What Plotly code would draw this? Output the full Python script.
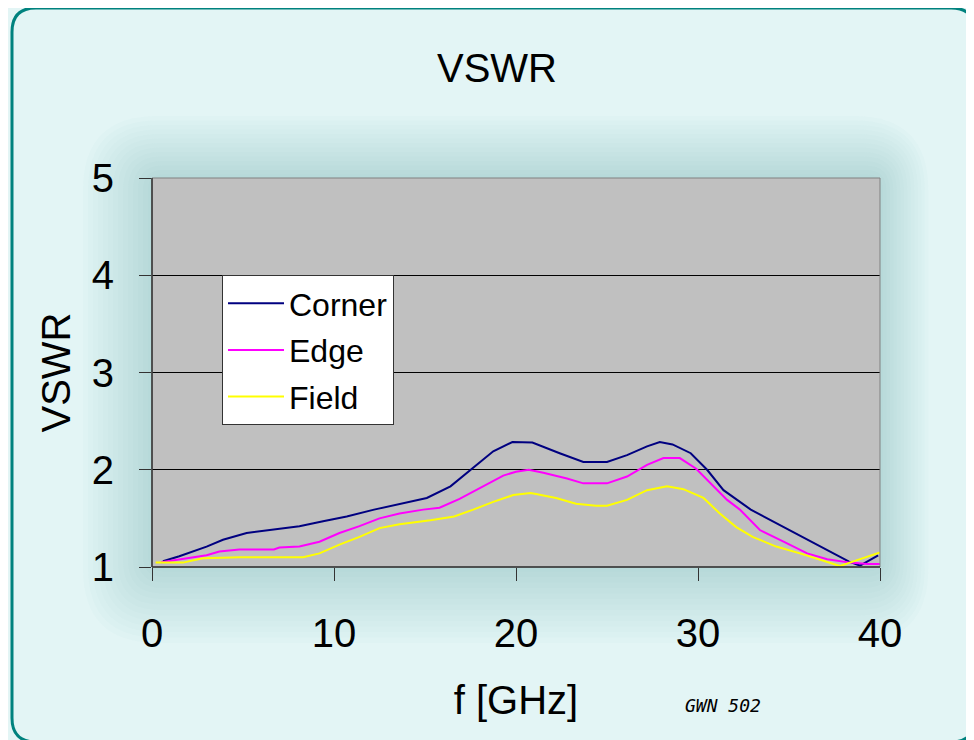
import plotly.graph_objects as go

# ---- data ----
corner_f = [0.6, 1.5, 3.0, 3.9, 5.2, 6.7, 8.1, 9.4, 10.7, 12.2, 13.6, 15.1, 16.4, 17.5, 18.75,
            19.8, 20.9, 22.4, 23.7, 25.0, 26.1, 27.2, 27.9, 28.6, 29.6, 30.5, 31.4, 32.9, 34.3,
            36.0, 37.25, 38.3, 38.9, 39.9]
corner_v = [1.06, 1.11, 1.21, 1.28, 1.35, 1.39, 1.42, 1.47, 1.52, 1.59, 1.65, 1.71, 1.83, 2.0, 2.19,
            2.285, 2.28, 2.17, 2.08, 2.08, 2.15, 2.24, 2.285, 2.26, 2.17, 2.0, 1.79, 1.59, 1.45,
            1.285, 1.16, 1.055, 1.015, 1.12]

edge_f = [0.5, 1.0, 3.0, 3.7, 4.8, 6.7, 7.0, 8.1, 9.2, 10.3, 11.4, 12.5, 13.6, 14.9, 15.8, 16.9,
          18.0, 19.3, 20.0, 20.7, 21.5, 22.8, 23.7, 25.0, 26.1, 27.2, 28.1, 29.0, 29.9, 30.8, 31.6,
          32.3, 33.4, 34.7, 36.0, 37.1, 38.35, 39.3, 40.0]
edge_v = [1.05, 1.065, 1.12, 1.16, 1.18, 1.18, 1.20, 1.21, 1.26, 1.35, 1.42, 1.50, 1.55, 1.59, 1.61,
          1.70, 1.81, 1.94, 1.98, 2.0, 1.97, 1.91, 1.86, 1.86, 1.93, 2.05, 2.12, 2.12, 2.01, 1.84,
          1.69, 1.59, 1.38, 1.26, 1.14, 1.08, 1.045, 1.03, 1.03]

field_f = [0.2, 1.7, 2.8, 4.8, 8.3, 9.2, 10.3, 11.4, 12.5, 13.6, 15.3, 16.6, 17.65, 18.75, 19.85,
           20.8, 21.1, 22.2, 23.3, 24.4, 25.0, 26.1, 27.2, 28.3, 29.2, 30.3, 31.2, 32.1, 33.0, 34.3,
           35.6, 37.1, 37.8, 38.5, 39.3, 40.0]
field_v = [1.045, 1.045, 1.09, 1.10, 1.10, 1.14, 1.23, 1.31, 1.40, 1.44, 1.48, 1.52, 1.59, 1.67,
           1.74, 1.76, 1.75, 1.71, 1.65, 1.63, 1.63, 1.69, 1.79, 1.83, 1.80, 1.71, 1.55, 1.41, 1.31,
           1.21, 1.14, 1.055, 1.01, 1.055, 1.11, 1.15]

x_ticks = [0, 10, 20, 30, 40]
y_ticks = [1, 2, 3, 4, 5]

# ---- layout geometry (page pixels; the page body has an 8px margin) ----
OFF = 8
PW, PH = 974, 740
W, H = PW - OFF, PH - OFF
L, R, T, B = 152, 880, 178, 567


def P(px, py):
    return ((px - L) / (R - L), (B - py) / (B - T))


def rrect(x0, y0, x1, y1, r):
    pts = [("M", [(x0 + r, y0)]), ("L", [(x1 - r, y0)]), ("Q", [(x1, y0), (x1, y0 + r)]),
           ("L", [(x1, y1 - r)]), ("Q", [(x1, y1), (x1 - r, y1)]), ("L", [(x0 + r, y1)]),
           ("Q", [(x0, y1), (x0, y1 - r)]), ("L", [(x0, y0 + r)]), ("Q", [(x0, y0), (x0 + r, y0)])]
    s = ""
    for cmd, ps in pts:
        s += cmd + " ".join("%.5f,%.5f" % P(a, b) for a, b in ps) + " "
    return s + "Z"


shapes = []
# soft glow behind the plot area
N = 14
for i in range(N):
    e = 4 + i * 5
    shapes.append(dict(type="path", xref="paper", yref="paper", layer="below",
                       path=rrect(L - e * 1.0, T - e * 0.9, R + e * 0.7, B + e * 1.1, 12 + e * 0.9),
                       fillcolor="#7FAEB2", opacity=0.028, line=dict(width=0)))
# gray plot background (drawn over the glow)
shapes.append(dict(type="rect", xref="paper", yref="paper", layer="below",
                   x0=0, y0=0, x1=1, y1=1, fillcolor="#C0C0C0", line=dict(width=0)))
# teal slide border
shapes.append(dict(type="path", xref="paper", yref="paper", layer="below",
                   path=rrect(12, 8, 975, 742, 24), fillcolor="rgba(0,0,0,0)",
                   line=dict(color="#00827E", width=3)))
# gray top/right plot border
shapes.append(dict(type="rect", xref="paper", yref="paper", layer="above",
                   x0=0, y0=0, x1=1, y1=1, line=dict(color="#808080", width=1)))
# dark left and bottom axis lines
shapes.append(dict(type="line", xref="paper", yref="paper", layer="above",
                   x0=0, y0=0, x1=0, y1=1, line=dict(color="#333333", width=1.5)))
shapes.append(dict(type="line", xref="paper", yref="paper", layer="above",
                   x0=0, y0=0, x1=1, y1=0, line=dict(color="#333333", width=1.5)))

FONT = "Liberation Sans, Arial, sans-serif"

fig = go.Figure()
fig.add_trace(go.Scatter(x=corner_f, y=corner_v, mode="lines", name="Corner", legendgroup="a",
                         line=dict(color="#000080", width=2)))
fig.add_trace(go.Scatter(x=edge_f, y=edge_v, mode="lines", name="Edge", legendgroup="b",
                         line=dict(color="#FF00FF", width=2)))
fig.add_trace(go.Scatter(x=field_f, y=field_v, mode="lines", name="Field", legendgroup="c",
                         line=dict(color="#FFFF00", width=2)))

gx, gy = P(723, 705)
fig.update_layout(
    width=W, height=H,
    margin=dict(l=L - OFF, r=PW - R, t=T - OFF, b=PH - B, autoexpand=False),
    paper_bgcolor="#E3F5F5",
    plot_bgcolor="rgba(0,0,0,0)",
    font=dict(family=FONT, color="#000000", size=40),
    title=dict(text="VSWR", font=dict(size=40, family=FONT, color="#000000"),
               xref="container", yref="container", x=(497 - OFF) / W, y=1 - (68 - OFF) / H,
               xanchor="center", yanchor="middle"),
    xaxis=dict(range=[0, 40], tickvals=x_ticks, ticktext=[str(v) for v in x_ticks],
               showgrid=False, zeroline=False, showline=False,
               ticks="outside", ticklen=13, tickcolor="#333333", tickwidth=1,
               ticklabelstandoff=18, tickfont=dict(size=40),
               title=dict(text="f [GHz]", font=dict(size=40), standoff=31)),
    yaxis=dict(range=[1, 5], tickvals=y_ticks, ticktext=[str(v) for v in y_ticks],
               showgrid=True, gridcolor="#000000", gridwidth=1, zeroline=False, showline=False,
               ticks="outside", ticklen=12, tickcolor="#333333", tickwidth=1,
               ticklabelstandoff=17, tickfont=dict(size=40),
               title=dict(text="VSWR", font=dict(size=40), standoff=8)),
    legend=dict(x=(222 - L) / (R - L), y=(B - 275) / (B - T), xanchor="left", yanchor="top",
                bgcolor="#FFFFFF", bordercolor="#333333", borderwidth=1,
                font=dict(size=32, family=FONT), tracegroupgap=2, itemwidth=56),
    showlegend=True,
    shapes=shapes,
    annotations=[dict(text="<i>GWN 502</i>", x=gx, y=gy, xanchor="center", yanchor="middle",
                      xref="paper", yref="paper", showarrow=False,
                      font=dict(size=18, family="DejaVu Sans Mono, monospace", color="#000000"))],
)

fig.write_html("out.html")
